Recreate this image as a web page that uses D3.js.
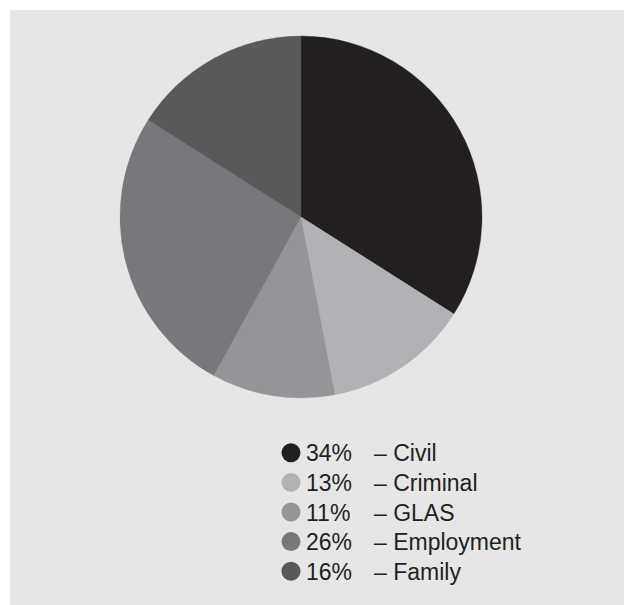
<!DOCTYPE html>
<html>
<head>
<meta charset="utf-8">
<script src="https://cdn.jsdelivr.net/npm/d3@7"></script>
<style>
html,body{margin:0;padding:0;background:#fff;}
svg{display:block;}
</style>
</head>
<body>
<svg id="chart" width="624" height="605"></svg>
<script>
const categories = ["Civil", "Criminal", "GLAS", "Employment", "Family"];
const values = [34, 13, 11, 26, 16];
const colors = ["#231f20", "#b1b2b5", "#949598", "#77787b", "#58595b"];

const svg = d3.select("#chart");
svg.append("rect").attr("x", 10).attr("y", 10).attr("width", 614).attr("height", 595).attr("fill", "#e6e6e6");

const cx = 301, cy = 217, r = 181;
const pie = d3.pie().sort(null).value(d => d.v);
const data = categories.map((c, i) => ({c, v: values[i], col: colors[i]}));
const arc = d3.arc().innerRadius(0).outerRadius(r);
const g = svg.append("g").attr("transform", `translate(${cx},${cy})`);
g.selectAll("path").data(pie(data)).join("path")
  .attr("d", arc)
  .attr("fill", d => d.data.col)
  .attr("stroke", d => d.data.col)
  .attr("stroke-width", 0.3);

const y = d3.scaleBand().domain(categories).range([438, 586]).paddingInner(0);
const leg = svg.append("g").attr("font-family", "'Liberation Sans', Arial, sans-serif").attr("font-size", 23).attr("fill", "#231f20");
const rows = leg.selectAll("g").data(data).join("g")
  .attr("transform", d => `translate(0,${y(d.c) + y.bandwidth() / 2})`);
rows.append("circle").attr("cx", 291).attr("cy", 0).attr("r", 9.5).attr("fill", d => d.col);
rows.append("text").attr("x", 306).attr("y", 8.5).text(d => d.v + "%");
rows.append("text").attr("x", 374).attr("y", 8.5).text(d => "\u2013 " + d.c);
</script>
</body>
</html>
